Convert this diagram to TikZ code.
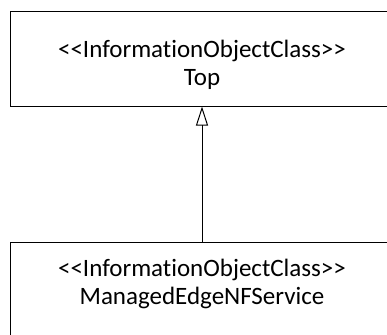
\documentclass[tikz,border=0pt]{standalone}
\usepackage{fontspec}
\setmainfont{Carlito}[Ligatures={TeXOff,NoCommon}]
\usetikzlibrary{arrows.meta}
\begin{document}
\begin{tikzpicture}[x=1pt,y=-1pt,
ioc/.style = {draw,line width=1pt,rectangle,minimum width=384pt,minimum height=94pt,inner sep=0pt},
txt/.style = {align=center,inner sep=0pt,font=\fontsize{25}{28}\selectfont},
inh/.style = {draw,line width=1pt,-{Triangle[open,width=12pt,length=19pt,line width=1pt]}}
]
  \useasboundingbox (0,0) rectangle (387,334);
  \clip (0,0) rectangle (387,334);
  \node[ioc] (top) at (202,59) {};
  \node[ioc] (mens) at (202,289) {};
  \node[txt] (toptxt) at (202,65) {<<InformationObjectClass>>\\Top};
  \node[txt] (menstxt) at (202,284) {<<InformationObjectClass>>\\ManagedEdgeNFService};

  \path[inh] (mens.north)--(top.south);
\end{tikzpicture}
\end{document}
